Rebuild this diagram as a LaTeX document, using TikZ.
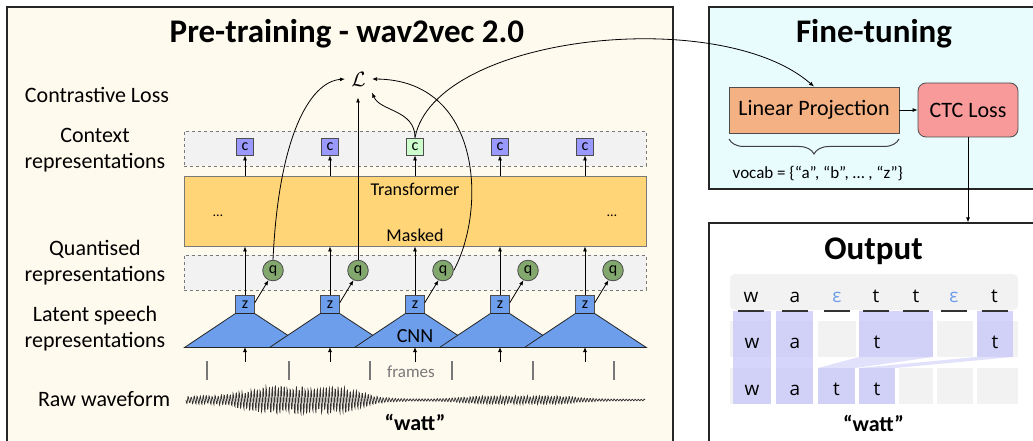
\documentclass[tikz,border=0pt]{standalone}
\usepackage{fontspec}
\setmainfont{Carlito}
\newfontfamily\gridfont{Open Sans}
\usepackage{amssymb,amsmath}
\usetikzlibrary{arrows.meta,positioning,calc,decorations.pathreplacing}

\definecolor{creambg}{RGB}{255,250,238}
\definecolor{cyanbg}{RGB}{232,252,254}
\definecolor{rowgray}{RGB}{242,242,242}
\definecolor{tfyellow}{RGB}{255,213,120}
\definecolor{cblue}{RGB}{153,153,255}
\definecolor{cgreen}{RGB}{204,255,204}
\definecolor{zblue}{RGB}{109,158,235}
\definecolor{qgreen}{RGB}{130,168,110}
\definecolor{lporange}{RGB}{244,177,131}
\definecolor{ctcred}{RGB}{248,154,154}
\definecolor{hilite}{RGB}{196,196,250}
\definecolor{edgegray}{RGB}{120,120,120}

\newcommand\pxfont[1]{\fontsize{#1}{#1}\selectfont}

\begin{document}
\begin{tikzpicture}[x=1pt,y=-1pt,line width=0.8pt,
    >={Latex[length=5pt,width=4pt]},
    panel/.style={draw=black!85,line width=1.2pt,inner sep=0},
    lbl/.style={anchor=base,align=center,font=\fontsize{22}{26}\selectfont},
    rowbox/.style={draw=edgegray,dashed,fill=rowgray,minimum width=462,minimum height=35,inner sep=0},
    cbox/.style={draw=black!70,fill=cblue,minimum width=17,minimum height=17,inner sep=0,font=\pxfont{16}},
    zbox/.style={draw=black!70,fill=zblue,minimum width=18.6,minimum height=17.3,inner sep=0,font=\pxfont{16}},
    qnode/.style={circle,draw=black!70,fill=qgreen,minimum size=20.6,inner sep=0,font=\pxfont{16}},
    tick/.style={draw=edgegray,line width=1.2pt},
    wave/.style={draw=black!80,line width=0.7pt},
    cell/.style={fill=rowgray},
    hlmark/.style={fill=hilite,opacity=0.7},
    letter/.style={anchor=base,font=\gridfont\pxfont{19}},
    declare function={bmp(\t,\c,\w)=1/(1+min(abs((\t-\c)/\w),4)^6);
      env(\t)=1+3.5*bmp(\t,215,38)+15*bmp(\t,305,58)+4*bmp(\t,520,60);}]
  \useasboundingbox (0,0) rectangle (1033,441);
  \clip (0,0) rectangle (1033,441);
  \fill[white] (0,0) rectangle (1033,441);

  % panels
  \node(pretrain) at (340,226) [panel,fill=creambg,minimum width=666,minimum height=438] {};
  \node(finetune) at (874.5,98) [panel,fill=cyanbg,minimum width=331,minimum height=182] {};
  \node(outpanel) at (874.5,336.5) [panel,fill=white,minimum width=331,minimum height=227] {};

  \node(pttitle) at (347,43) [anchor=base,font=\pxfont{33}\bfseries] {Pre-training - wav2vec 2.0};
  \node(fttitle) at (874,43) [anchor=base,font=\pxfont{33}\bfseries] {Fine-tuning};
  \node(outtitle) at (873.5,259) [anchor=base,font=\pxfont{33}\bfseries] {Output};

  \node(lcontr) at (97,103) [lbl] {Contrastive Loss};
  \node(lctx) at (95,168) [lbl] {Context\\representations};
  \node(lquant) at (95,281) [lbl] {Quantised\\representations};
  \node(llatent) at (95,347) [lbl] {Latent speech\\representations};
  \node(lraw) at (174,406) [lbl,anchor=base east] {Raw waveform};

  \node(ctxrow) at (415,148.5) [rowbox] {};
  \node(qrow) at (415,272.5) [rowbox] {};
  \node(tf) at (415,211) [draw=edgegray,fill=tfyellow,minimum width=462,minimum height=70,inner sep=0] {};
  \node(tftext) at (415,195) [anchor=base,font=\pxfont{18}] {Transformer};
  \node(masked) at (415,241) [anchor=base,font=\pxfont{18}] {Masked};
  \node(dotsl) at (218,216) [anchor=base,font=\pxfont{14}] {…};
  \node(dotsr) at (612,216) [anchor=base,font=\pxfont{14}] {…};

  \node(loss) at (358.5,79) [inner xsep=6pt,inner ysep=11pt,font=\pxfont{21}] {$\mathcal{L}$};

  % columns
  \foreach \i/\x in {1/245,2/330,3/415,4/500,5/585}{
    \node(c\i) at (\x,146.5) [cbox] {c};
    \node(z\i) at (\x,304.5) [zbox] {z};
    \node(q\i) at (\x+28,270.5) [qnode] {q};
    \fill[zblue,draw=black!85] (z\i.south west) -- (z\i.south east) -- ++(51.7,34) -- ++(-122,0) -- cycle;
    \coordinate(base\i) at (\x,347);
    \coordinate(fr\i) at (\x,362);
    \draw (c\i.south |- tf.north) edge[->] (c\i.south);
    \draw (z\i.north) edge[->] (z\i.north |- tf.south);
    \draw (z\i.10) edge[->] (q\i.245);
    \draw (fr\i) edge[->] (base\i);
  }
  \node(c3) at (415,146.5) [cbox,fill=cgreen] {c};
  \node(cnn) at (415,342) [anchor=base,font=\pxfont{20}] {CNN};

  \foreach \x in {207,289,370,452,533,614}
    \draw[tick] (\x,361) -- (\x,380);
  \node(frames) at (411,377) [anchor=base,font=\pxfont{17},text=edgegray] {frames};

  \pgfmathsetseed{7}
  \draw[wave] plot[domain=186:645,samples=919] (\x,{400+env(\x)*sin(mod(\x,3)*120)*(0.6+0.4*rnd)});
  \node(wattin) at (415,430) [anchor=base,font=\pxfont{22}\bfseries] {“watt”};

  % contrastive loss
  \draw[->] (q1.north) .. controls +(5.5,-121) and +(-36,3) .. (loss.west);
  \draw (q2.north) edge[->] (q2.north |- loss.south);
  \draw[->] (q3.east) .. controls +(33,-61) and +(110,1) .. (loss.east);
  \draw[->] (c3.north) .. controls +(0,-28) and +(8,19) .. (loss.-45);

  % fine-tuning
  \node(lp) at (814,110) [draw=black!70,fill=lporange,minimum width=170,minimum height=46,inner sep=0,font=\pxfont{22}] {Linear Projection};
  \node(ctc) at (968,110) [draw=black!70,fill=ctcred,rounded corners=8pt,minimum width=100,minimum height=54,inner sep=0,font=\pxfont{22}] {CTC Loss};
  \draw (lp.east) edge[->] (ctc.west);
  \draw[->] (c3.north) .. controls +(20,-103) and +(-94,-82) .. (lp.north);
  \draw[black!75,line width=1pt,decorate,decoration={brace,amplitude=15pt,mirror}] (729,139) -- (899,139);
  \node(vocab) at (729,178) [anchor=base west,font=\pxfont{17}] {vocab = \{“a”, “b”, … , “z”\}};
  \draw (ctc.south) edge[->] (ctc.south |- outpanel.north);

  % output grid
  \fill[rowgray,rounded corners=5pt] (730,274) rectangle (1018,310);
  \foreach \a/\b in {730/771,776/813,818/856,859/933,937/973,977/1018}
    \fill[cell] (\a,321) rectangle (\b,357);
  \foreach \a/\b in {730/771,776/813,818/855,859/895,899/933,937/973,977/1018}
    \fill[cell] (\a,368) rectangle (\b,404);
  \fill[hlmark] (733,311) rectangle (771,404);
  \fill[hlmark] (776,311) rectangle (813,404);
  \fill[hlmark] (859,311) rectangle (933,357);
  \fill[hlmark] (977,311) rectangle (1013,357);
  \fill[hlmark] (818,368) rectangle (855,404);
  \fill[hlmark] (859,368) rectangle (895,404);
  \fill[hlmark,opacity=0.5] (859,357) -- (933,357) -- (855,368) -- (818,368) -- cycle;
  \fill[hlmark,opacity=0.5] (977,357) -- (1013,357) -- (895,368) -- (859,368) -- cycle;

  \foreach \i/\x/\ch in {1/751/w,2/795/a,3/837/{\color{zblue}ε},4/876/t,5/916/t,6/954/{\color{zblue}ε},7/994.5/t}{
    \node(top\i) at (\x,302) [letter] {\ch};
    \draw[black!80,line width=1.2pt] (\x-13,311) -- (\x+13,311);
  }
  \foreach \i/\x/\ch in {1/752/w,2/795/a,3/877/t,4/995/t}
    \node(mid\i) at (\x,348) [letter] {\ch};
  \foreach \i/\x/\ch in {1/752/w,2/795/a,3/836.5/t,4/877/t}
    \node(bot\i) at (\x,395) [letter] {\ch};
  \node(wattout) at (873.5,431) [anchor=base,font=\pxfont{22}\bfseries] {“watt”};
\end{tikzpicture}
\end{document}
